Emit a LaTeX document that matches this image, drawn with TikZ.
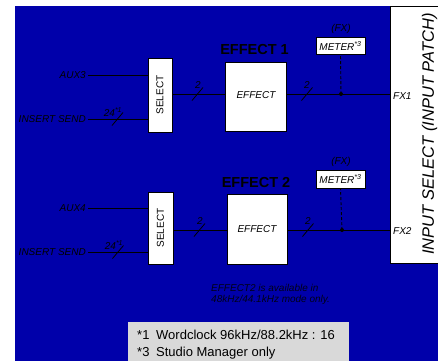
\documentclass[tikz,border=0pt]{standalone}
\usepackage{fontspec}
\setmainfont{Liberation Sans}
\definecolor{bgblue}{RGB}{0,0,170}
\definecolor{notegray}{RGB}{217,217,217}
\begin{document}
\begin{tikzpicture}[x=1pt,y=-1pt,
  wbox/.style={draw=black,fill=white,line width=0.8pt,inner sep=0pt},
  lbl/.style={font=\fontsize{10}{12}\selectfont\itshape,inner sep=0pt},
  wire/.style={line width=1pt,draw=black},
  slash/.style={line width=0.8pt,draw=black},
  title/.style={font=\fontsize{14.5}{16}\selectfont\bfseries,inner sep=0pt},
  meterdash/.style={line width=0.9pt,dashed,dash pattern=on 3pt off 2pt},
  foot/.style={font=\fontsize{13}{15}\selectfont,anchor=base west,inner sep=0pt}
]
\useasboundingbox (0,0) rectangle (438,360);
\clip (0,0) rectangle (438,360);
\fill[bgblue] (15,6) rectangle (440,362);
% patch box
\node[wbox,minimum width=60pt,minimum height=257pt] (patch) at (420.5,134.5) {};
\node[font=\fontsize{16.5}{18}\selectfont\itshape,rotate=90,inner sep=0pt] (patchtxt) at (429.5,134) {INPUT SELECT (INPUT PATCH)};

% ===== upper chain =====
\node[wbox,minimum width=24pt,minimum height=74pt] (sel1) at (160,95) {};
\node[font=\fontsize{10}{12}\selectfont,rotate=90,inner sep=0pt] (sel1t) at (160,95) {SELECT};
\node[wbox,minimum width=61pt,minimum height=69pt] (eff1) at (255.5,96.5) {};
\node[lbl] (eff1t) at (256,95) {EFFECT};
\node[title] (ttl1) at (254.5,50) {EFFECT 1};
\node[wbox,minimum width=49pt,minimum height=17pt] (met1) at (340.5,46) {};
\node[lbl] (met1t) at (340.5,46) {METER\textsuperscript{*3}};
\node[lbl] (fx1t) at (341,29) {(FX)};
\coordinate (j1) at (341,94);

\node[lbl,anchor=east] (aux3) at (86,75) {AUX3};
\node[lbl,anchor=east] (ins1) at (86,119) {INSERT SEND};
\draw[wire] ([xshift=2pt]aux3.east) -- (aux3.east -| sel1.west);
\draw[wire] ([xshift=2pt]ins1.east) -- (ins1.east -| sel1.west);
\draw[slash] (117.5,119) +(-5.5,6.5) -- +(5.5,-6.5);
\node[lbl] (n24a) at (113,112) {24\textsuperscript{*1}};

\draw[wire] (sel1.east |- j1) -- (eff1.west |- j1);
\draw[slash] (197.5,94) +(-5.5,6.5) -- +(5.5,-6.5);
\node[lbl] (n2a) at (198,85) {2};
\draw[wire] (eff1.east |- j1) -- (patch.west |- j1);
\draw[slash] (307,94) +(-5.5,6.5) -- +(5.5,-6.5);
\node[lbl] (n2b) at (307,85) {2};
\fill (j1) circle (2pt);
\draw[meterdash] (j1) -- (met1.south);
\node[lbl,anchor=west] (fx1) at (393,96) {FX1};

% ===== lower chain =====
\node[wbox,minimum width=25pt,minimum height=72pt] (sel2) at (160.5,228) {};
\node[font=\fontsize{10}{12}\selectfont,rotate=90,inner sep=0pt] (sel2t) at (160.5,228) {SELECT};
\node[wbox,minimum width=60pt,minimum height=70pt] (eff2) at (257,229) {};
\node[lbl] (eff2t) at (257,229) {EFFECT};
\node[title] (ttl2) at (256,182) {EFFECT 2};
\node[wbox,minimum width=49pt,minimum height=18pt] (met2) at (340.5,179) {};
\node[lbl] (met2t) at (340.5,179) {METER\textsuperscript{*3}};
\node[lbl] (fx2t) at (341,162) {(FX)};
\coordinate (j2) at (342,230);

\node[lbl,anchor=east] (aux4) at (86,208) {AUX4};
\node[lbl,anchor=east] (ins2) at (86,252) {INSERT SEND};
\draw[wire] ([xshift=2pt]aux4.east) -- (aux4.east -| sel2.west);
\draw[wire] ([xshift=2pt]ins2.east) -- (ins2.east -| sel2.west);
\draw[slash] (118,252) +(-5.5,6.5) -- +(5.5,-6.5);
\node[lbl] (n24b) at (114,245) {24\textsuperscript{*1}};

\draw[wire] (sel2.east |- j2) -- (eff2.west |- j2);
\draw[slash] (199.5,230) +(-5.5,6.5) -- +(5.5,-6.5);
\node[lbl] (n2c) at (200,221) {2};
\draw[wire] (eff2.east |- j2) -- (patch.west |- j2);
\draw[slash] (308,230) +(-5.5,6.5) -- +(5.5,-6.5);
\node[lbl] (n2d) at (308,221) {2};
\fill (j2) circle (2pt);
\draw[meterdash] (j2) -- (met2.south);
\node[lbl,anchor=west] (fx2) at (393,231) {FX2};

% note
\node[lbl,anchor=west,text=black!85!bgblue] (note1) at (211,288) {EFFECT2 is available in};
\node[lbl,anchor=west,text=black!85!bgblue] (note2) at (211,300) {48kHz/44.1kHz mode only.};

% footnote box
\fill[notegray] (128,322) rectangle (349,362);
\node[foot] (f1a) at (137,339.5) {*1};
\node[foot] (f1b) at (156,339.5) {Wordclock 96kHz/88.2kHz : 16};
\node[foot] (f3a) at (137,356) {*3};
\node[foot] (f3b) at (156,356) {Studio Manager only};
\end{tikzpicture}
\end{document}
